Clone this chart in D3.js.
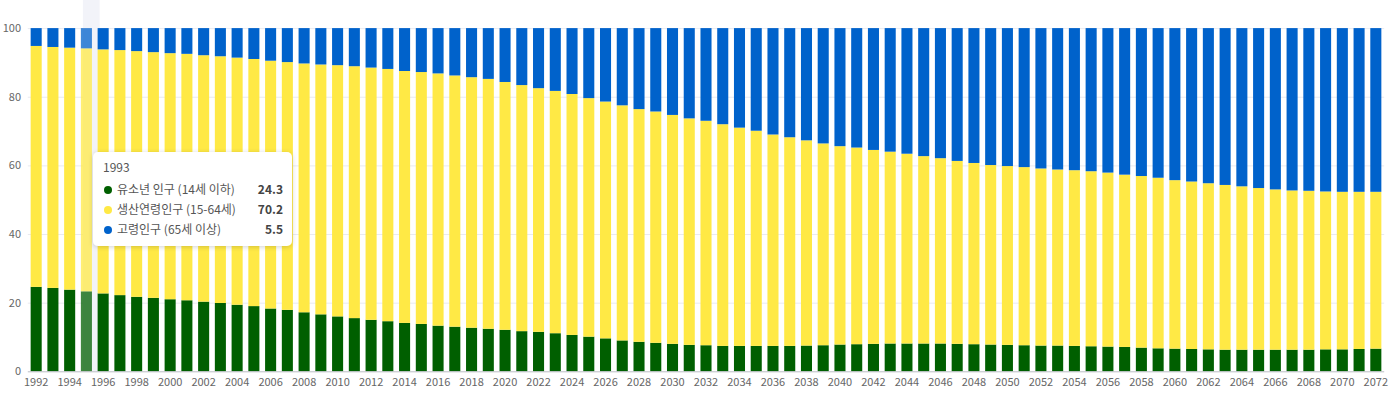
<!DOCTYPE html>
<html><head><meta charset="utf-8">
<script src="https://cdn.jsdelivr.net/npm/d3@7"></script>
<style>
html,body{margin:0;padding:0;background:#fff;}
svg{display:block;font-family:"Noto Sans CJK KR","Noto Sans",sans-serif;}
</style></head>
<body><svg id="c" width="1400" height="393"></svg>
<script>
const years = d3.range(1992, 2073);
const youth = [24.6,24.3,23.8,23.3,22.7,22.2,21.7,21.4,21.0,20.7,20.3,19.9,19.4,19.0,18.3,17.9,17.2,16.6,16.0,15.5,15.0,14.6,14.1,13.8,13.3,13.0,12.7,12.4,12.1,11.7,11.5,11.1,10.6,10.1,9.6,9.0,8.6,8.3,8.0,7.7,7.6,7.4,7.4,7.4,7.4,7.4,7.5,7.6,7.8,7.9,8.0,8.1,8.1,8.1,8.1,8.0,7.9,7.8,7.7,7.6,7.5,7.5,7.4,7.3,7.2,7.1,6.9,6.7,6.6,6.5,6.4,6.3,6.3,6.3,6.3,6.3,6.3,6.4,6.4,6.5,6.6];
const working = [70.2,70.2,70.5,70.8,71.1,71.4,71.6,71.6,71.7,71.8,71.8,71.9,72.0,72.0,72.2,72.2,72.5,72.8,73.2,73.4,73.5,73.5,73.4,73.4,73.5,73.2,73.0,72.8,72.2,71.7,71.0,70.6,70.2,69.5,69.0,68.5,67.8,67.4,66.7,66.0,65.4,64.6,63.6,62.7,61.6,60.8,59.8,58.8,57.8,57.3,56.5,55.9,55.3,54.6,54.0,53.3,52.8,52.3,52.1,51.9,51.6,51.3,51.2,51.0,50.7,50.2,50.0,49.7,49.1,48.8,48.4,48.0,47.6,47.1,46.7,46.4,46.3,46.0,45.9,45.8,45.7];
const elderly = [5.2,5.5,5.7,5.9,6.2,6.4,6.7,7.0,7.3,7.5,7.9,8.2,8.6,9.0,9.5,9.9,10.3,10.6,10.8,11.1,11.5,11.9,12.5,12.8,13.2,13.8,14.3,14.8,15.7,16.6,17.5,18.3,19.2,20.4,21.4,22.5,23.6,24.3,25.3,26.3,27.0,28.0,29.0,29.9,31.0,31.8,32.7,33.6,34.4,34.8,35.5,36.0,36.6,37.3,37.9,38.7,39.3,39.9,40.2,40.5,40.9,41.2,41.4,41.7,42.1,42.7,43.1,43.6,44.3,44.7,45.2,45.7,46.1,46.6,47.0,47.3,47.4,47.6,47.7,47.7,47.7];
const seriesNames = ["유소년 인구 (14세 이하)","생산연령인구 (15-64세)","고령인구 (65세 이상)"];
const seriesKeys = ["youth","working","elderly"];
const colors = ["#005f00","#ffe945","#0062cb"];
const yTicks = [0,20,40,60,80,100];
const xTickYears = years.filter(y => (y - 1992) % 2 === 0);
const tooltipYear = 1993;
const hoverYear = 1995;

const rows = years.map((y,i) => ({year:y, youth:youth[i], working:working[i], elderly:elderly[i]}));
const svg = d3.select("#c");
const x = d3.scaleBand().domain(years).range([27.8,1384.2]).paddingInner(0.34).paddingOuter(0.17);
const yS = d3.scaleLinear().domain([0,100]).range([371.3,28.1]);

// grid
svg.append("g").selectAll("line").data(yTicks.filter(t=>t>0)).join("line")
  .attr("x1",27.8).attr("x2",1384.2)
  .attr("y1",d=>yS(d)+0.5).attr("y2",d=>yS(d)+0.5)
  .attr("stroke","#e9eaf0").attr("stroke-width",1);

// hover band
const hb = x(hoverYear);
svg.append("rect").attr("x",hb+2).attr("y",0).attr("width",x.step()).attr("height",yS(0))
  .attr("fill","#f2f3f9");

const stack = d3.stack().keys(seriesKeys)(rows);
svg.append("g").selectAll("g").data(stack).join("g")
  .attr("fill",(d,i)=>colors[i])
  .selectAll("rect").data(d=>d).join("rect")
  .attr("x",d=>x(d.data.year))
  .attr("width",x.bandwidth())
  .attr("y",d=>yS(d[1]))
  .attr("height",d=>yS(d[0])-yS(d[1]))
  .attr("opacity",d=>d.data.year===hoverYear?0.75:1);

// axis line
svg.append("line").attr("x1",27.8).attr("x2",1384.2).attr("y1",371.8).attr("y2",371.8)
  .attr("stroke","#b9bcc4").attr("stroke-width",1);

// y labels
svg.append("g").selectAll("text").data(yTicks).join("text")
  .attr("x",21).attr("y",d=>yS(d)).attr("dy","0.35em")
  .attr("text-anchor","end").attr("font-size",11).attr("fill","#666")
  .text(d=>d);

// x labels
svg.append("g").selectAll("text").data(xTickYears).join("text")
  .attr("x",d=>x(d)+x.bandwidth()/2).attr("y",382).attr("dy","0.35em")
  .attr("text-anchor","middle").attr("font-size",11).attr("fill","#666")
  .text(d=>d);

// tooltip
const defs = svg.append("defs");
const f = defs.append("filter").attr("id","sh").attr("x","-20%").attr("y","-20%").attr("width","140%").attr("height","140%");
f.append("feDropShadow").attr("dx",0).attr("dy",1).attr("stdDeviation",2.5).attr("flood-color","#000").attr("flood-opacity",0.18);
const ti = years.indexOf(tooltipYear);
const tg = svg.append("g").attr("transform","translate(93,152)");
tg.append("rect").attr("width",199).attr("height",94).attr("rx",5).attr("fill","#fff").attr("filter","url(#sh)");
tg.append("text").attr("x",10).attr("y",16).attr("dy","0.35em").attr("font-size",12).attr("fill","#555").text(tooltipYear);
const vals = [youth[ti], working[ti], elderly[ti]];
seriesNames.forEach((n,i)=>{
  const yy = 38 + i*20;
  tg.append("circle").attr("cx",15).attr("cy",yy).attr("r",4).attr("fill",colors[i]);
  tg.append("text").attr("x",24).attr("y",yy).attr("dy","0.35em").attr("font-size",12).attr("fill","#555").text(n);
  tg.append("text").attr("x",190).attr("y",yy).attr("dy","0.35em").attr("font-size",12).attr("font-weight","bold").attr("fill","#444").attr("text-anchor","end").text(vals[i].toFixed(1));
});
</script></body></html>
